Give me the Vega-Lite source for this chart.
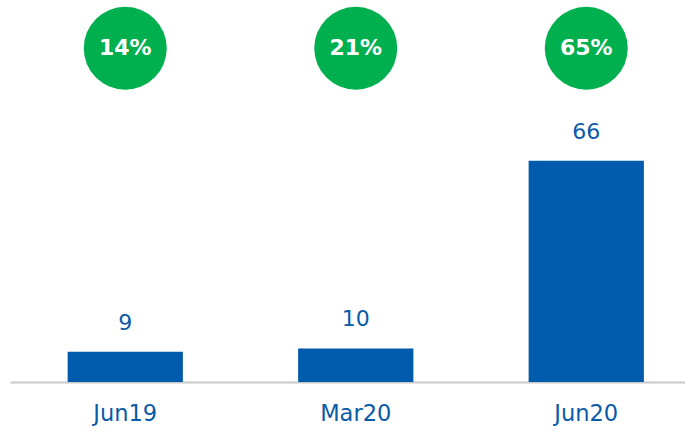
{
  "$schema": "https://vega.github.io/schema/vega-lite/v6.json",
  "autosize": {"type": "none"},
  "width": 675,
  "height": 382,
  "padding": {"left": 10, "top": 0, "right": 0, "bottom": 45},
  "background": "white",
  "config": {"view": {"stroke": null}, "font": "DejaVu Sans"},
  "data": {"values": [
    {"period": "Jun19", "value": 9, "pct": "14%"},
    {"period": "Mar20", "value": 10, "pct": "21%"},
    {"period": "Jun20", "value": 66, "pct": "65%"}
  ]},
  "encoding": {
    "x": {"field": "period", "type": "nominal", "sort": null,
      "scale": {"range": [0, 691.5], "paddingInner": 0.5, "paddingOuter": 0.25},
      "axis": {"title": null, "labelAngle": 0, "ticks": false, "domainColor": "#c8c8c8", "domainWidth": 2,
        "labelFontSize": 22.5, "labelColor": "#0a5aa8", "labelPadding": 20, "labelFont": "DejaVu Sans"}}
  },
  "layer": [
    {"mark": {"type": "bar", "color": "#005BAC"},
     "encoding": {"y": {"field": "value", "type": "quantitative", "scale": {"domain": [0, 114], "nice": false}, "axis": null}}},
    {"mark": {"type": "text", "baseline": "bottom", "dy": -17, "fontSize": 22, "color": "#0a5aa8"},
     "encoding": {"y": {"field": "value", "type": "quantitative"}, "text": {"field": "value"}}},
    {"mark": {"type": "point", "shape": "circle", "filled": true, "color": "#00B04F", "opacity": 1, "size": 6890},
     "encoding": {"y": {"datum": 99.6, "type": "quantitative"}}},
    {"mark": {"type": "text", "fontSize": 22, "fontWeight": "bold", "color": "white", "baseline": "middle"},
     "encoding": {"y": {"datum": 99.6, "type": "quantitative"}, "text": {"field": "pct"}}}
  ]
}
